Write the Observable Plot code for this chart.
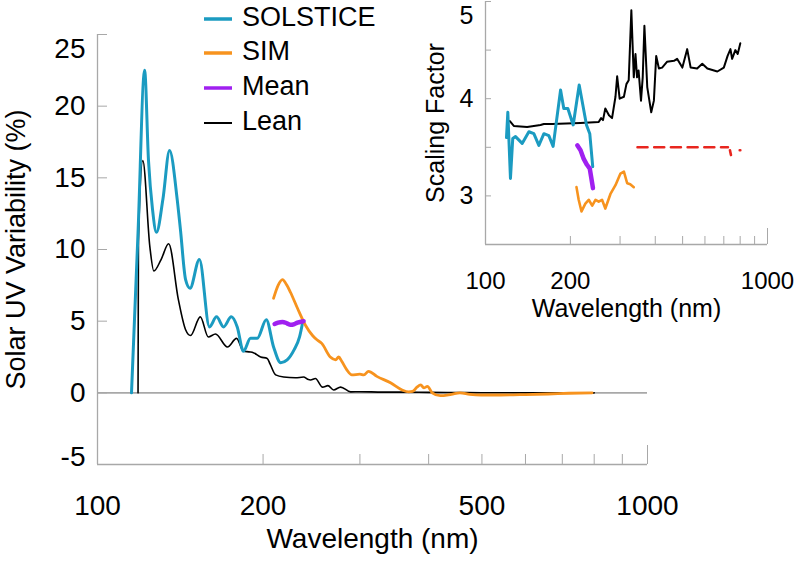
<!DOCTYPE html>
<html><head><meta charset="utf-8">
<script src="https://cdn.jsdelivr.net/npm/d3@7"></script>
<script src="https://cdn.jsdelivr.net/npm/@observablehq/plot@0.6"></script>
<style>
body{margin:0;background:#fff;font-family:'Liberation Sans',Arial,Helvetica,sans-serif;}
#wrap{position:relative;width:796px;height:565px;overflow:hidden;background:#fff;}
#main{position:absolute;left:0;top:0;}
#inset{position:absolute;left:380px;top:0;}
.lg{position:absolute;left:204px;height:34px;line-height:34px;font-size:27px;color:#000;white-space:nowrap;}
.lg svg{vertical-align:middle;margin-right:10px;}
</style></head><body>
<div id="wrap"><div id="main"></div><div id="inset"></div><div id="legend"></div></div>
<script>
// ---------- main panel data ----------
const solsticeWl  = [115.3, 118.5, 121.8, 123.8, 125.9, 128.0, 131.5, 135.2, 139.6, 141.5, 144.6, 147.3, 153.2, 159.8, 164.6, 169.5, 175.1, 179.5, 184.2, 189.8, 195.2, 202.7, 209, 215.3, 221.2, 227.7, 233, 236.3];
const solsticeVal = [0, 11.2, 22.5, 16.2, 12.8, 11.2, 13.5, 16.9, 13.5, 11.4, 7.9, 7.3, 9.3, 4.6, 5.3, 4.6, 5.3, 4.6, 2.9, 3.8, 3.8, 5.1, 3.2, 2.1, 2.3, 3.0, 3.9, 5.0];

const simWl  = [209, 213, 216.9, 221, 224.4, 231, 239, 246, 250.6, 255.7, 265, 271, 274.5, 278, 284, 290, 300, 305, 311, 322, 341, 358, 368, 374, 381, 387, 392, 398, 406, 420, 440, 456, 475, 498, 540, 600, 660, 720, 793];
const simVal = [6.6, 7.5, 7.9, 7.5, 7.0, 5.9, 4.7, 4.0, 3.7, 3.45, 2.5, 2.3, 2.5, 2.2, 1.6, 1.25, 1.3, 1.25, 1.5, 1.15, 0.7, 0.2, 0.07, 0.1, 0.4, 0.55, 0.35, 0.45, 0, -0.2, -0.1, 0, -0.1, -0.15, -0.15, -0.12, -0.08, -0.03, 0];

const meanWl  = [209.9, 213, 216.9, 221, 224.4, 228, 231, 237];
const meanVal = [4.8, 4.9, 4.95, 4.85, 4.75, 4.8, 4.9, 5.0];

const leanWl  = [118.5, 118.7, 120.9, 124.5, 126.6, 130.5, 134.7, 140.3, 144.6, 147.6, 153.8, 159, 163.9, 172.3, 179, 184.2, 189.6, 192, 198, 203.5, 206, 210.8, 218, 229, 237, 241, 244, 249, 256.6, 262.4, 268.7, 276.7, 288.6, 300, 330, 360, 400, 450, 500, 600, 700, 800];
const leanVal = [0, 10.6, 16.2, 10.2, 8.5, 9.3, 10.4, 6.5, 4.4, 4.0, 5.3, 3.9, 4.1, 3.2, 3.8, 2.9, 2.85, 2.8, 2.5, 2.4, 2.0, 1.25, 1.1, 1.05, 1.1, 0.95, 0.9, 1.0, 0.4, 0.5, 0.2, 0.4, 0.07, 0.08, 0.05, 0.05, 0.03, 0.02, 0.01, 0, 0, 0];

// ---------- inset data (scaling factor) ----------
const inSolsticeWl  = [118.7, 120, 122.6, 124.9, 127.8, 134.9, 142.5, 148.4, 154.6, 161.1, 167.7, 173.7, 184.6, 189.5, 195.9, 204.6, 214.9, 228.1, 234.3, 240];
const inSolsticeVal = [3.60, 3.86, 3.18, 3.59, 3.61, 3.54, 3.66, 3.64, 3.52, 3.64, 3.62, 3.51, 4.09, 3.90, 3.90, 3.73, 4.14, 3.73, 3.64, 3.30];

const inMeanWl  = [211.6, 217.3, 223, 229, 234.3, 240.5];
const inMeanVal = [3.52, 3.47, 3.38, 3.32, 3.28, 3.08];

const inSimWl  = [210.2, 214, 219, 226, 232.3, 239, 245.5, 252, 259, 266, 277.4, 289, 301, 309.6, 318, 326, 335.6];
const inSimVal = [3.09, 2.96, 2.84, 2.92, 2.96, 2.90, 2.96, 2.94, 2.96, 2.87, 3.02, 3.11, 3.23, 3.25, 3.13, 3.12, 3.09];

const inLeanWl  = [122, 126, 140.5, 156.7, 161, 172.5, 217, 252, 257, 261, 266, 274, 281, 289, 293, 299, 309.6, 316, 322, 329, 335.6, 340.3, 344.7, 349, 356, 361, 366, 374.6, 387, 395.5, 403, 412, 423, 440, 466, 478, 499, 519, 534, 563, 587, 612, 664, 700, 722, 739, 749, 769, 784, 801];
const inLeanVal = [3.77, 3.72, 3.71, 3.73, 3.74, 3.74, 3.75, 3.76, 3.80, 3.78, 3.90, 3.83, 3.80, 4.02, 4.23, 4.00, 4.02, 4.15, 4.19, 4.91, 4.22, 4.46, 4.22, 4.29, 3.98, 4.22, 4.75, 4.12, 3.86, 3.98, 4.44, 4.31, 4.32, 4.38, 4.39, 4.41, 4.32, 4.51, 4.32, 4.31, 4.36, 4.31, 4.28, 4.32, 4.44, 4.51, 4.41, 4.50, 4.46, 4.57];

const inRedWl  = [346, 724, 727, 736, 742, 745, 797, 801];
const inRedVal = [3.5, 3.5, null, 3.47, 3.42, null, 3.47, 3.47];

// ---------- ticks ----------
const xTickLabels = [100, 200, 500, 1000];
const xMinorTicks = [200, 300, 400, 500, 600, 700, 800, 900];
const xMajorTicks = [1000];
const yTicks = [-5, 0, 5, 10, 15, 20, 25];
const yTickLabelsMid = [0, 5, 10, 15, 20];
const inYTicks = [3, 3.5, 4, 4.5, 5];
const inYTickLabelsMid = [3, 4];

// ---------- legend ----------
const legendNames  = ["SOLSTICE", "SIM", "Mean", "Lean"];
const colors = {SOLSTICE: "#1b9bc1", SIM: "#f7931e", Mean: "#a020f0", Lean: "#000000", Red: "#e8261f"};

const FONT = "'Liberation Sans', Arial, Helvetica, sans-serif";
const GRAY = "#a8a8a8";
const rows = (wl, val) => wl.map((w, i) => ({wl: w, v: val[i]}));
const fmt = d => String(d);

const main = Plot.plot({
  width: 796, height: 565,
  marginLeft: 97, marginRight: 149, marginTop: 34, marginBottom: 101,
  style: {fontFamily: FONT, background: "transparent", color: "#000", overflow: "visible"},
  x: {type: "log", domain: [100, 1000]},
  y: {domain: [-5, 25]},
  marks: [
    Plot.ruleY([0], {stroke: GRAY, strokeWidth: 1.6}),
    Plot.ruleY([-5], {stroke: GRAY, strokeWidth: 1.3}),
    Plot.ruleX([100], {stroke: GRAY, strokeWidth: 1.3}),
    Plot.axisX(xMinorTicks, {tickSize: -10, stroke: GRAY, fill: "none", label: null}),
    Plot.axisX(xMajorTicks, {tickSize: -19, stroke: GRAY, fill: "none", label: null}),
    Plot.axisX(xTickLabels, {tickSize: 0, tickPadding: 31, fontSize: 28, tickFormat: fmt, label: null}),
    Plot.axisY(yTicks, {tickSize: -10, stroke: GRAY, fill: "none", label: null}),
    Plot.axisY(yTickLabelsMid, {tickSize: 0, tickPadding: 12, fontSize: 28, tickFormat: fmt, label: null}),
    Plot.axisY([25], {tickSize: 0, tickPadding: 12, fontSize: 28, dy: 15, tickFormat: fmt, label: null}),
    Plot.axisY([-5], {tickSize: 0, tickPadding: 12, fontSize: 28, dy: -7, tickFormat: fmt, label: null}),
    Plot.text(["Wavelength (nm)"], {frameAnchor: "bottom", textAnchor: "middle", dy: 83, fontSize: 28}),
    Plot.text(["Solar UV Variability (%)"], {frameAnchor: "left", textAnchor: "middle", rotate: -90, dx: -81, fontSize: 27}),
    Plot.line(rows(leanWl, leanVal), {x: "wl", y: "v", stroke: colors.Lean, strokeWidth: 1.6, curve: "monotone-x"}),
    Plot.line(rows(solsticeWl, solsticeVal), {x: "wl", y: "v", stroke: colors.SOLSTICE, strokeWidth: 3, curve: "monotone-x"}),
    Plot.line(rows(simWl, simVal), {x: "wl", y: "v", stroke: colors.SIM, strokeWidth: 2.8, curve: "monotone-x"}),
    Plot.line(rows(meanWl, meanVal), {x: "wl", y: "v", stroke: colors.Mean, strokeWidth: 4.5, curve: "monotone-x"})
  ]
});
document.getElementById("main").appendChild(main);

const inset = Plot.plot({
  width: 416, height: 340,
  marginLeft: 105, marginRight: 29, marginTop: 1, marginBottom: 96,
  style: {fontFamily: FONT, background: "transparent", color: "#000", overflow: "visible"},
  x: {type: "log", domain: [100, 1000]},
  y: {domain: [2.5, 5]},
  marks: [
    Plot.ruleY([2.5], {stroke: GRAY, strokeWidth: 1.3}),
    Plot.ruleX([100], {stroke: GRAY, strokeWidth: 1.3}),
    Plot.axisX(xMinorTicks, {tickSize: -8, stroke: GRAY, fill: "none", label: null}),
    Plot.axisX(xMajorTicks, {tickSize: -16, stroke: GRAY, fill: "none", label: null}),
    Plot.axisX(xTickLabels, {tickSize: 0, tickPadding: 27, fontSize: 24, tickFormat: fmt, label: null}),
    Plot.axisY(inYTicks, {tickSize: -6, stroke: GRAY, fill: "none", label: null}),
    Plot.axisY(inYTickLabelsMid, {tickSize: 0, tickPadding: 12, fontSize: 25, tickFormat: fmt, label: null}),
    Plot.axisY([5], {tickSize: 0, tickPadding: 12, fontSize: 25, dy: 14, tickFormat: fmt, label: null}),
    Plot.text(["Wavelength (nm)"], {frameAnchor: "bottom", textAnchor: "middle", dy: 72, fontSize: 25}),
    Plot.text(["Scaling Factor"], {frameAnchor: "left", textAnchor: "middle", rotate: -90, dx: -50, fontSize: 25}),
    Plot.line(rows(inLeanWl, inLeanVal), {x: "wl", y: "v", stroke: colors.Lean, strokeWidth: 2}),
    Plot.line(rows(inSolsticeWl, inSolsticeVal), {x: "wl", y: "v", stroke: colors.SOLSTICE, strokeWidth: 3}),
    Plot.line(rows(inSimWl, inSimVal), {x: "wl", y: "v", stroke: colors.SIM, strokeWidth: 2.6}),
    Plot.line(rows(inMeanWl, inMeanVal), {x: "wl", y: "v", stroke: colors.Mean, strokeWidth: 4.5}),
    Plot.line(rows(inRedWl, inRedVal), {x: "wl", y: "v", stroke: colors.Red, strokeWidth: 2.6, strokeDasharray: "10,6.7"})
  ]
});
document.getElementById("inset").appendChild(inset);

// legend (HTML, real text)
const lg = document.getElementById("legend");
const legendTops = [0, 34, 69, 104];
legendNames.forEach((name, i) => {
  const d = document.createElement("div");
  d.className = "lg";
  d.style.top = legendTops[i] + "px";
  const w = name === "Lean" ? 2 : 3.5;
  d.innerHTML = `<svg width="28" height="10"><line x1="0" x2="28" y1="5" y2="5" stroke="${colors[name]}" stroke-width="${w}"/></svg>${name}`;
  lg.appendChild(d);
});
</script>
</body></html>
